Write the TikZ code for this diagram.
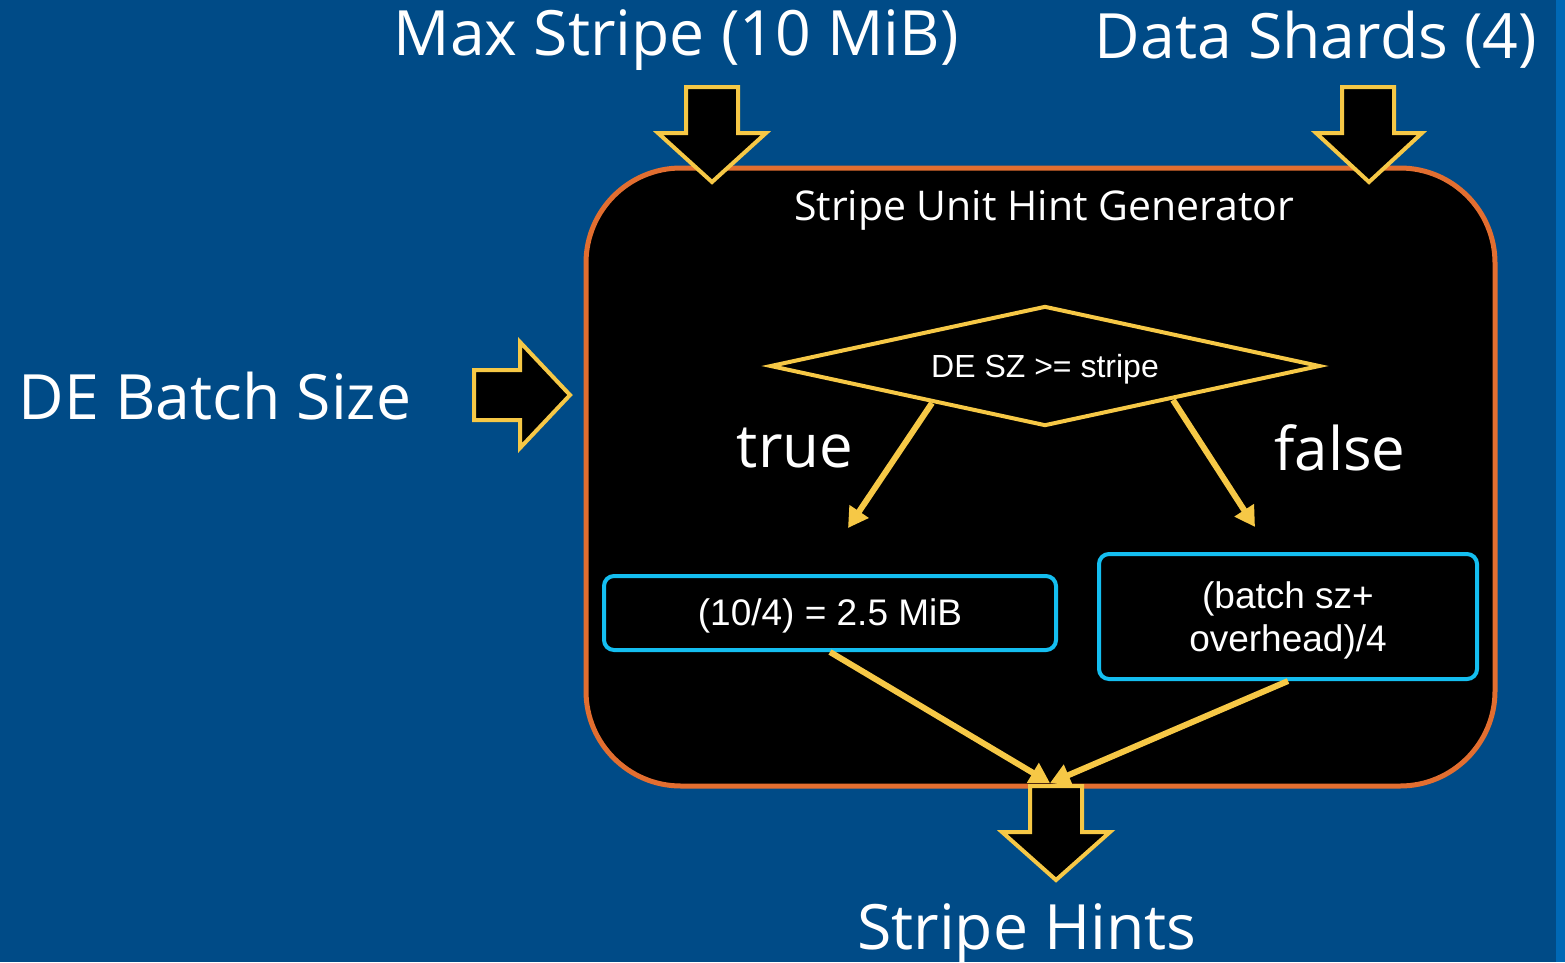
\documentclass[tikz,border=0pt]{standalone}
\usepackage{fontspec}
\setmainfont{Open Sans}
\newfontfamily\arialfont{Liberation Sans}
\usetikzlibrary{shapes.geometric,arrows.meta}
\definecolor{bgblue}{RGB}{0,75,135}
\definecolor{edgeblue}{RGB}{0,104,181}
\definecolor{orng}{RGB}{226,110,48}
\definecolor{ylw}{RGB}{246,200,70}
\definecolor{cyn}{RGB}{20,190,240}
\tikzset{
  blockarrow/.style={draw=ylw, line width=4pt, fill=black, line join=miter},
  bigtext/.style={text=white, font=\fontsize{62.5}{70}\selectfont, inner sep=0pt},
  flowline/.style={draw=ylw, line width=6pt, -{Triangle[length=20pt,width=22pt]}},
  resultbox/.style={draw=cyn, line width=4pt, rounded corners=10pt, fill=black, text=white, font=\arialfont\fontsize{37}{43}\selectfont, align=center, inner sep=0pt},
}
\begin{document}
\begin{tikzpicture}[x=1pt,y=-1pt]
\fill[bgblue] (0,0) rectangle (1565,962);
\fill[edgeblue] (1556,0) rectangle (1565,962);
\useasboundingbox (0,0) rectangle (1565,962);
% generator box
\node[draw=orng, line width=5pt, fill=black, rounded corners=95pt, minimum width=909pt, minimum height=618pt, inner sep=0pt] (gen) at (1040.5,477) {};
\node[text=white, font=\fontsize{41}{48}\selectfont, inner sep=0pt] (title) at (1044,210) {Stripe Unit Hint Generator};
% diamond
\node[draw=ylw, line width=4pt, diamond, aspect=4.58, minimum width=550pt, minimum height=120pt, inner sep=0pt] (dec) at (1045,366) {};
\node[text=white, font=\arialfont\fontsize{32}{36}\selectfont, inner sep=0pt] (dectext) at (1045,369) {DE SZ >= stripe};
\node[text=white, font=\fontsize{60}{66}\selectfont, inner sep=0pt] (true) at (795,448) {true};
\node[text=white, font=\fontsize{60}{66}\selectfont, inner sep=0pt] (false) at (1340,448) {false};
% result boxes
\node[resultbox, minimum width=452pt, minimum height=74pt] (left) at (830,613) {};
\node[text=white, font=\arialfont\fontsize{37}{43}\selectfont, inner sep=0pt] (lefttext) at (830,616) {(10/4) = 2.5 MiB};
\node[resultbox, minimum width=378pt, minimum height=125pt] (right) at (1288,616.5) {};
\node[text=white, font=\arialfont\fontsize{37}{43}\selectfont, inner sep=0pt, align=center] (righttext) at (1288,620) {(batch sz+\\overhead)/4};
% flow lines
\coordinate (tend) at (848,528);
\coordinate (fend) at (1255,527);
\coordinate (merge) at (1050,783);
\draw[flowline] (932,403) -- (tend);
\draw[flowline] (1173,400) -- (fend);
\draw[flowline] (left.south) -- (merge);
\draw[flowline] (right.south) -- (merge);
% block arrows
\draw[blockarrow] (686,87) -- (738,87) -- (738,133) -- (766,133) -- (712,182) -- (658,133) -- (686,133) -- cycle;
\draw[blockarrow] (1342,87) -- (1394,87) -- (1394,133) -- (1422,133) -- (1369,182) -- (1316,133) -- (1342,133) -- cycle;
\draw[blockarrow] (474,370) -- (520,370) -- (520,342) -- (570,395) -- (520,448) -- (520,420) -- (474,420) -- cycle;
\draw[blockarrow] (1030,786) -- (1082,786) -- (1082,832) -- (1110,832) -- (1056,880) -- (1002,832) -- (1030,832) -- cycle;
% outer labels
\node[bigtext] (maxs) at (676,40) {Max Stripe (10 MiB)};
\node[bigtext] (shards) at (1316,40) {Data Shards (4)};
\node[bigtext] (batch) at (215,396) {DE Batch Size};
\node[bigtext] (hints) at (1027,934) {Stripe Hints};
\end{tikzpicture}
\end{document}
